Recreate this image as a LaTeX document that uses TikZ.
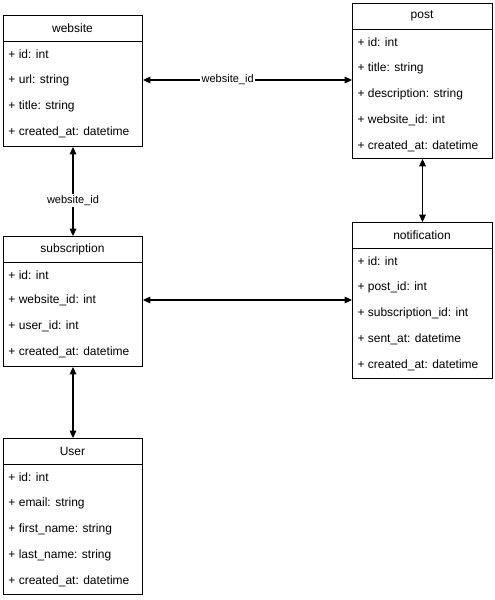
\documentclass[tikz,border=0pt]{standalone}
\usepackage{fontspec}
\setmainfont{Liberation Sans}
\usetikzlibrary{arrows.meta}

\begin{document}
\begin{tikzpicture}[x=0.75pt, y=-0.75pt, line width=0.75pt, >={Triangle[length=5.5pt, width=5pt]}]
	%\draw[help lines] (0,0) grid (495,600);
	\fontsize{9}{11}\selectfont
	\tikzset{
		classbox/.style={draw, anchor=north west, inner sep=0pt, minimum width=#1},
		attr/.style={anchor=west, inner sep=0pt},
		title/.style={inner sep=0pt},
		rel/.style={<->, line width=0.8pt},
		rellabel/.style={fill=white, inner sep=1pt, font=\fontsize{8.25}{10}\selectfont}
	}
	\useasboundingbox (0, 0) rectangle (495, 600);

	% website
	\node [classbox=104.25pt, minimum height=98.25pt] (website) at (3, 15) {};
	\draw (3, 41) -- (142, 41);
	\node [title] (websitehead) at (72.5, 28) {website};
	\node [attr] (websiteid) at (8, 54) {+ id: int};
	\node [attr] (websiteurl) at (8, 80) {+ url: string};
	\node [attr] (websitetitle) at (8, 106) {+ title: string};
	\node [attr] (websitecreated) at (8, 132) {+ created\_at: datetime};

	% post
	\node [classbox=105pt, minimum height=116.25pt] (post) at (352, 3) {};
	\draw (352, 29) -- (492, 29);
	\node [title] (posthead) at (422, 16) {post};
	\node [attr] (postid) at (357, 42) {+ id: int};
	\node [attr] (posttitle) at (357, 68) {+ title: string};
	\node [attr] (postdesc) at (357, 94) {+ description: string};
	\node [attr] (postwebsite) at (357, 120) {+ website\_id: int};
	\node [attr] (postcreated) at (357, 146) {+ created\_at: datetime};

	% subscription
	\node [classbox=104.25pt, minimum height=97.5pt] (subscription) at (3, 236) {};
	\draw (3, 262) -- (142, 262);
	\node [title] (subhead) at (72.5, 249) {subscription};
	\node [attr] (subid) at (8, 275) {+ id: int};
	\node [attr] (subwebsite) at (8, 300) {+ website\_id: int};
	\node [attr] (subuser) at (8, 326) {+ user\_id: int};
	\node [attr] (subcreated) at (8, 352) {+ created\_at: datetime};

	% notification
	\node [classbox=105pt, minimum height=117pt] (notification) at (352, 222) {};
	\draw (352, 248) -- (492, 248);
	\node [title] (notifhead) at (422, 235) {notification};
	\node [attr] (notifid) at (357, 261) {+ id: int};
	\node [attr] (notifpost) at (357, 287) {+ post\_id: int};
	\node [attr] (notifsub) at (357, 313) {+ subscription\_id: int};
	\node [attr] (notifsent) at (357, 339) {+ sent\_at: datetime};
	\node [attr] (notifcreated) at (357, 365) {+ created\_at: datetime};

	% User
	\node [classbox=104.25pt, minimum height=117pt] (user) at (3, 438) {};
	\draw (3, 464) -- (142, 464);
	\node [title] (userhead) at (72.5, 451) {User};
	\node [attr] (userid) at (8, 477) {+ id: int};
	\node [attr] (useremail) at (8, 503) {+ email: string};
	\node [attr] (userfirst) at (8, 529) {+ first\_name: string};
	\node [attr] (userlast) at (8, 555) {+ last\_name: string};
	\node [attr] (usercreated) at (8, 581) {+ created\_at: datetime};

	% relations
	\draw [rel] (website.east |- websiteurl) -- node [rellabel, pos=0.405] (wplabel) {website\_id} (post.west |- websiteurl);
	\draw [rel] (website.south) -- node [rellabel, pos=0.6] (wslabel) {website\_id} (subscription.north);
	\draw [rel] (post.south) -- (notification.north);
	\draw [rel] (subscription.east |- subwebsite) -- (notification.west |- subwebsite);
	\draw [rel] (subscription.south) -- (user.north);
\end{tikzpicture}
\end{document}
